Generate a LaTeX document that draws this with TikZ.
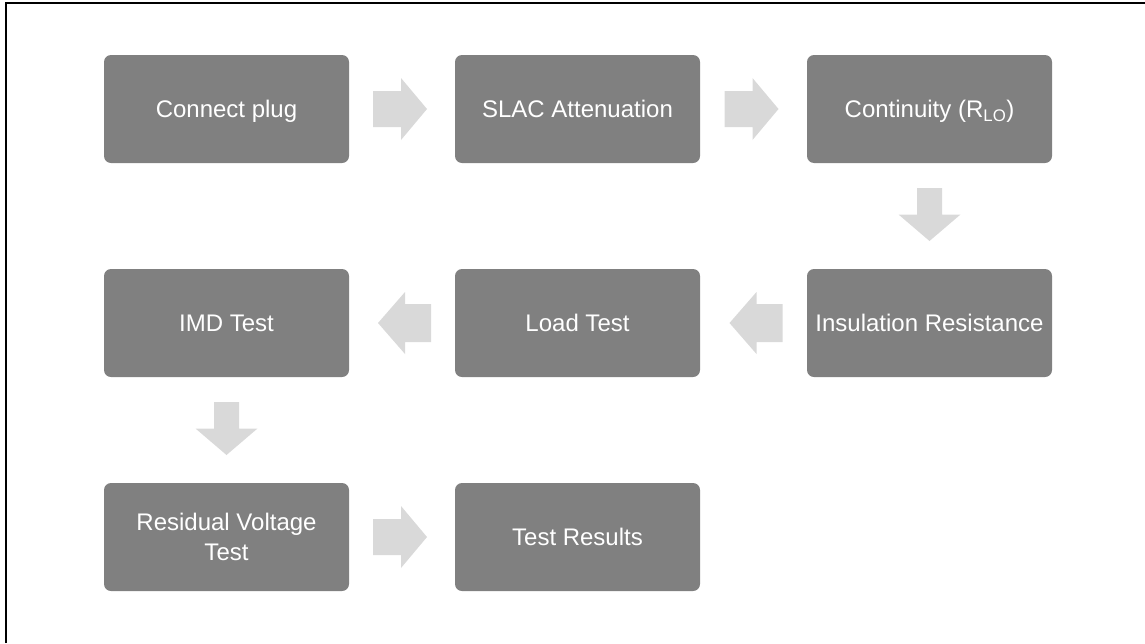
\documentclass[tikz,border=0pt]{standalone}
\usepackage{fontspec}
\setmainfont{Liberation Sans}
\usetikzlibrary{calc}
\definecolor{boxgray}{RGB}{128,128,128}
\definecolor{arrowgray}{RGB}{217,217,217}
\tikzset{
  stepbox/.style={rectangle, rounded corners=7pt, fill=boxgray, draw=none,
    minimum width=245pt, minimum height=108pt, inner sep=0pt,
    text=white, align=center, font=\fontsize{24pt}{30pt}\selectfont},
  oneline/.style={stepbox, text height=17.5pt, text depth=0pt},
  arrowR/.pic={\fill[arrowgray] (-27,-18) -- (1,-18) -- (1,-31) -- (27,0) -- (1,31) -- (1,18) -- (-27,18) -- cycle;},
  arrowL/.pic={\fill[arrowgray] (27,-19) -- (1,-19) -- (1,-31) -- (-26,0) -- (1,31) -- (1,19) -- (27,19) -- cycle;},
  arrowD/.pic={\fill[arrowgray] (-12.5,-26.5) -- (12.5,-26.5) -- (12.5,0) -- (31,0) -- (0,26.5) -- (-31,0) -- (-12.5,0) -- cycle;},
}
\begin{document}
\begin{tikzpicture}[x=1pt,y=-1pt]
\useasboundingbox (0,0) rectangle (1145,643);
\draw[line width=2pt] (6,643) -- (6,3) -- (1145,3);

\node[oneline] (cp)  at (226.5,109) {Connect plug};
\node[oneline] (sl)  at (577.5,109) {SLAC Attenuation};
\node[oneline] (co)  at (929.5,109) {Continuity (R\textsubscript{LO})};
\node[oneline] (ins) at (929.5,323) {Insulation Resistance};
\node[oneline] (lt)  at (577.5,323) {Load Test};
\node[oneline] (imd) at (226.5,323) {IMD Test};
\node[stepbox] (rv)  at (226.5,537) {Residual Voltage\\Test};
\node[oneline] (tr)  at (577.5,537) {Test Results};

\pic at ($(cp.east)!0.5!(sl.west)+(-2,0)$) {arrowR};
\pic at ($(sl.east)!0.5!(co.west)+(-2,0)$) {arrowR};
\pic at ($(co.south)!0.5!(ins.north)+(0,-1.5)$) {arrowD};
\pic at ($(ins.west)!0.5!(lt.east)+(2,0)$) {arrowL};
\pic at ($(lt.west)!0.5!(imd.east)+(2,0)$) {arrowL};
\pic at ($(imd.south)!0.5!(rv.north)+(0,-1.5)$) {arrowD};
\pic at ($(rv.east)!0.5!(tr.west)+(-2,0)$) {arrowR};
\end{tikzpicture}
\end{document}
